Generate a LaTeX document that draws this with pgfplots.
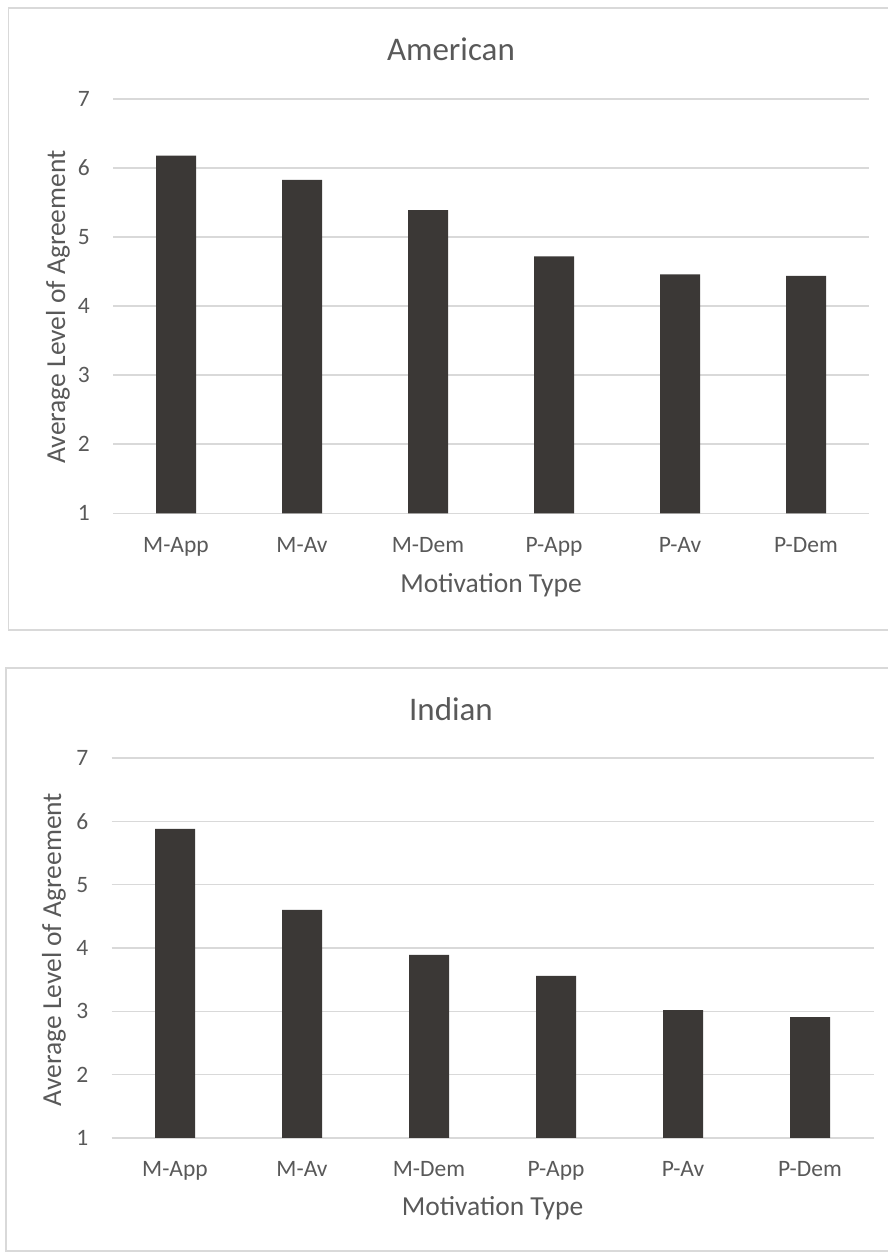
\documentclass[border=0pt]{standalone}
\usepackage{fontspec}
\setmainfont{Carlito}
\usepackage{pgfplots}
\pgfplotsset{compat=1.18}

\definecolor{barc}{HTML}{3B3836}
\definecolor{txt}{HTML}{595959}
\definecolor{gridc}{HTML}{D9D9D9}
\definecolor{framec}{HTML}{D9D9D9}

\pgfplotsset{
  motiv/.style={
    scale only axis,
    anchor=south west,
    ymin=1, ymax=7,
    xmin=-0.5, xmax=5.5,
    ytick={1,2,3,4,5,6,7},
    xtick={0,1,2,3,4,5},
    xticklabels={M-App,M-Av,M-Dem,P-App,P-Av,P-Dem},
    ymajorgrids,
    grid style={gridc, line width=1.5pt},
    axis line style={draw=none},
    major tick length=0pt,
    /pgf/number format/assume math mode=true,
    ticklabel style={font=\fontsize{23.5}{26}\selectfont, text=txt, inner sep=0pt},
    yticklabel style={anchor=east, xshift=-23pt},
    xticklabel style={anchor=base, yshift=-39pt},
    label style={font=\fontsize{27.5}{30}\selectfont, text=txt, inner sep=0pt},
    title style={font=\fontsize{33}{36}\selectfont, text=txt, inner sep=0pt, anchor=base},
    xlabel={Motivation Type},
    ylabel={Average Level of Agreement},
    ybar, bar width=40pt,
  }
}

\begin{document}
\begin{tikzpicture}
  \useasboundingbox (0pt,0pt) rectangle (887pt,1252pt);
  % chart frames
  \draw[framec, line width=1.5pt] (900pt,1244pt) -- (8.5pt,1244pt) -- (8.5pt,622pt) -- (900pt,622pt);
  \draw[framec, line width=1.5pt] (900pt,584pt) -- (6pt,584pt) -- (6pt,1pt) -- (900pt,1pt);

  % American
  \begin{axis}[motiv,
    at={(113pt,738.7pt)}, width=756pt, height=414.3pt,
    title={American},
    title style={at={(axis description cs:0.447,1.0775)}},
    xlabel style={at={(axis description cs:0.5,-0.19)}, anchor=base},
    ylabel style={at={(axis description cs:-0.0728,0.498)}, anchor=center},
  ]
    \addplot[fill=barc, draw=none] coordinates {
      (0,6.18) (1,5.83) (2,5.39) (3,4.72) (4,4.46) (5,4.44)
    };
  \end{axis}

  % Indian
  \begin{axis}[motiv,
    at={(111.5pt,114pt)}, width=762pt, height=380pt,
    title={Indian},
    title style={at={(axis description cs:0.4455,1.082)}},
    xlabel style={at={(axis description cs:0.5,-0.205)}, anchor=base},
    ylabel style={at={(axis description cs:-0.0755,0.496)}, anchor=center},
  ]
    \addplot[fill=barc, draw=none] coordinates {
      (0,5.88) (1,4.60) (2,3.89) (3,3.56) (4,3.02) (5,2.91)
    };
  \end{axis}
\end{tikzpicture}
\end{document}
